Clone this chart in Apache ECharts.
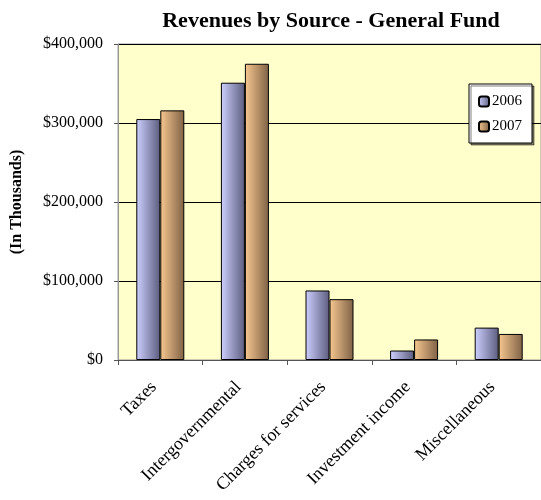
<!DOCTYPE html>
<html>
<head>
<meta charset="utf-8">
<title>Revenues by Source - General Fund</title>
<script src="https://cdn.jsdelivr.net/npm/echarts@6/dist/echarts.min.js"></script>
<style>
  html, body { margin: 0; padding: 0; background: #fff; }
  #chart { width: 541px; height: 500px; }
</style>
</head>
<body>
<div id="chart"></div>
<script>
// data (in thousands)
const categories = ['Taxes', 'Intergovernmental', 'Charges for services', 'Investment income', 'Miscellaneous'];
const seriesNames = ['2006', '2007'];
const values2006 = [305000, 351000, 88000, 12000, 41000];
const values2007 = [316000, 375000, 77000, 26000, 33000];
const yTicks = [0, 100000, 200000, 300000, 400000];

const serif = '"Liberation Serif", "DejaVu Serif", serif';

function barGradient(light, dark) {
    return new echarts.graphic.LinearGradient(0, 0, 1, 0, [
        { offset: 0, color: light },
        { offset: 1, color: dark }
    ]);
}

const chart = echarts.init(document.getElementById('chart'));

const option = {
    animation: false,
    backgroundColor: '#ffffff',
    title: {
        text: 'Revenues by Source - General Fund',
        left: 326,
        textAlign: 'center',
        top: 5,
        textStyle: {
            fontFamily: serif,
            fontSize: 22,
            fontWeight: 'bold',
            color: '#000'
        }
    },
    legend: {
        data: seriesNames,
        orient: 'vertical',
        left: 469,
        top: 84,
        padding: [10, 10, 9, 9],
        itemGap: 10,
        itemWidth: 10,
        itemHeight: 10,
        backgroundColor: '#ffffff',
        borderColor: '#000',
        borderWidth: 1,
        shadowColor: 'rgba(0,0,0,0.5)',
        shadowOffsetX: 2,
        shadowOffsetY: 2,
        shadowBlur: 0,
        textStyle: {
            fontFamily: serif,
            fontSize: 15,
            color: '#000',
            padding: [0, 0, 0, -2]
        }
    },
    grid: {
        left: 118,
        right: -2,
        top: 44,
        bottom: 140,
        show: true,
        backgroundColor: '#FFFFCC',
        borderColor: '#999999',
        borderWidth: 1
    },
    xAxis: {
        type: 'category',
        data: categories,
        axisLine: { lineStyle: { color: '#555', width: 1 } },
        axisTick: { show: true, length: 5, inside: false, lineStyle: { color: '#555' } },
        axisLabel: {
            rotate: 45,
            interval: 0,
            margin: 18,
            padding: [0, 9, 0, 0],
            fontFamily: serif,
            fontSize: 18,
            color: '#000'
        }
    },
    yAxis: {
        type: 'value',
        min: yTicks[0],
        max: yTicks[yTicks.length - 1],
        interval: 100000,
        name: '(In Thousands)',
        nameLocation: 'middle',
        nameRotate: 90,
        nameGap: 93,
        nameTextStyle: {
            fontFamily: serif,
            fontSize: 16,
            fontWeight: 'bold',
            color: '#000'
        },
        axisLine: { show: true, lineStyle: { color: '#999' } },
        axisTick: { show: true, length: 4, lineStyle: { color: '#555' } },
        axisLabel: {
            margin: 15,
            fontFamily: serif,
            fontSize: 16,
            color: '#000',
            formatter: v => '$' + v.toLocaleString('en-US')
        },
        splitLine: { show: true, lineStyle: { color: '#000', width: 1 } }
    },
    series: [
        {
            name: seriesNames[0],
            type: 'bar',
            data: values2006,
            barWidth: 24,
            barGap: '0%',
            itemStyle: {
                color: barGradient('#cdd0ff', '#5c5c7e'),
                borderColor: '#000',
                borderWidth: 1
            }
        },
        {
            name: seriesNames[1],
            type: 'bar',
            data: values2007,
            barWidth: 24,
            barGap: '0%',
            itemStyle: {
                color: barGradient('#f8c890', '#7e6146'),
                borderColor: '#000',
                borderWidth: 1
            }
        }
    ]
};

chart.setOption(option);
</script>
</body>
</html>
